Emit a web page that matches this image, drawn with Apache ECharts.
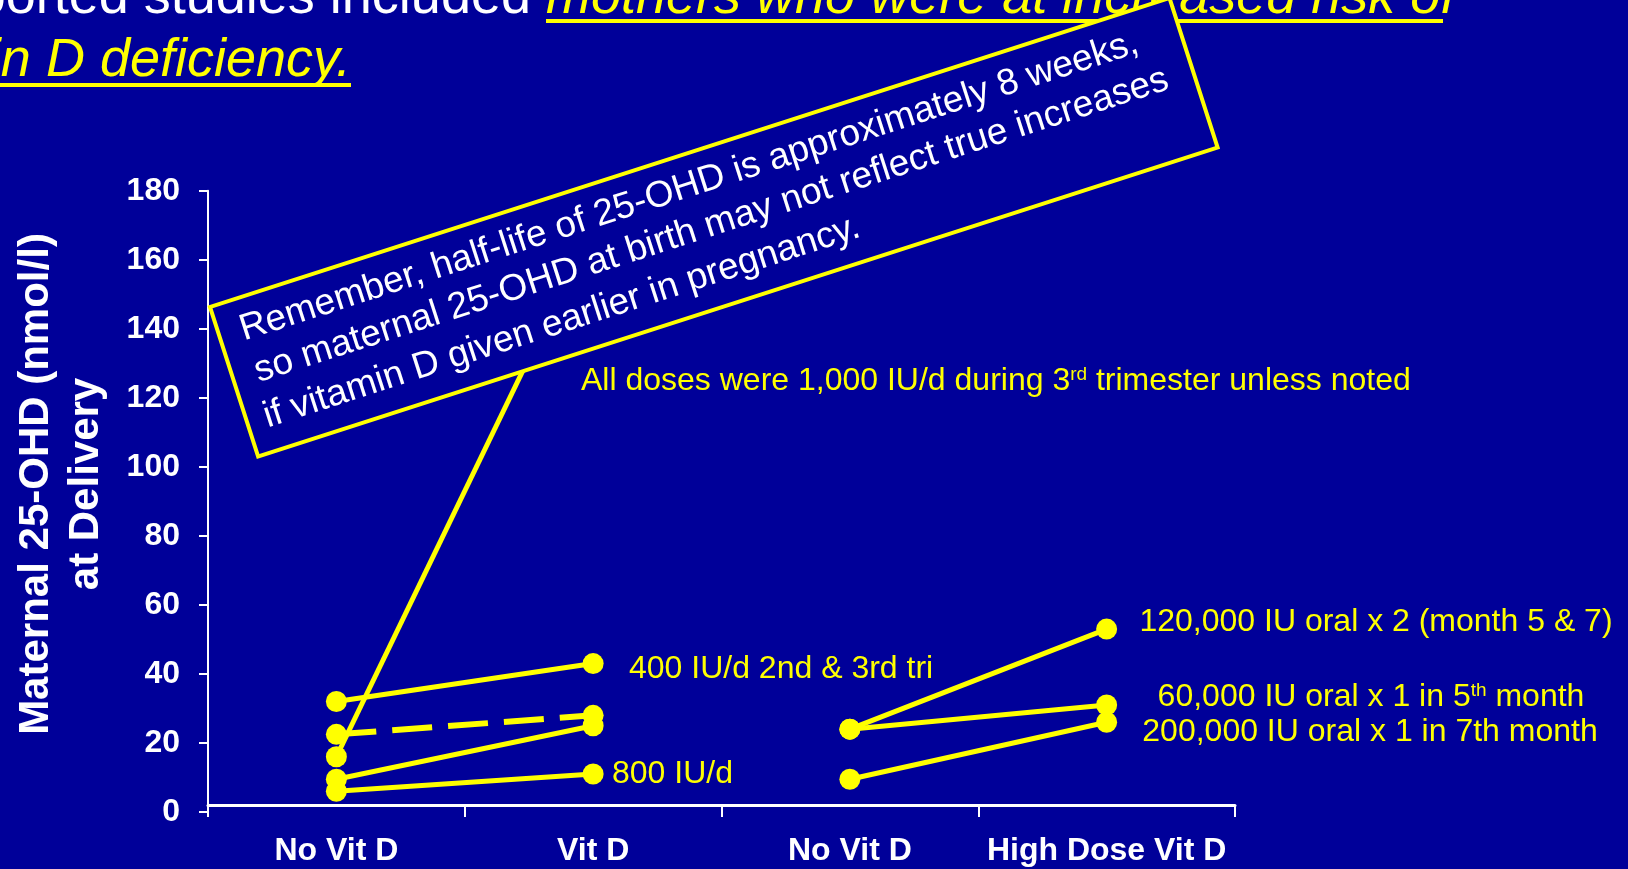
<!DOCTYPE html>
<html>
<head>
<meta charset="utf-8">
<script src="https://cdn.jsdelivr.net/npm/echarts@6/dist/echarts.min.js"></script>
<style>
html,body{margin:0;padding:0;background:#000099;}
#chart{width:1628px;height:869px;}
</style>
</head>
<body>
<div id="chart"></div>
<script>
// ---- data ----
const categories = ['No Vit D', 'Vit D', 'No Vit D', 'High Dose Vit D'];
const yTickMin = 0, yTickMax = 180, yTickStep = 20;
// left comparison (No Vit D -> Vit D)
const dose400_2nd3rd = [32, 43];
const doseDashed = [22.5, 28];
const doseSteep = [16, 170];
const doseMid = [9.5, 25];
const dose800 = [6, 11];
// right comparison (No Vit D -> High Dose Vit D)
const dose120k = [24, 53];
const dose60k = [24, 31];
const dose200k = [9.5, 26];

const YEL = '#FFFF00';
const FF = "'Liberation Sans', Arial, Helvetica, sans-serif";

function leftPair(p) { return [p[0], p[1], null, null]; }
function rightPair(p) { return [null, null, p[0], p[1]]; }
function mk(data, dashed) {
  return {
    type: 'line', data: data, symbol: 'circle', symbolSize: 21,
    itemStyle: { color: YEL }, showSymbol: true,
    lineStyle: { color: YEL, width: dashed ? 6 : 5, type: dashed ? [40, 16] : 'solid' },
    connectNulls: false, silent: true, z: 2
  };
}

const chart = echarts.init(document.getElementById('chart'), null, { renderer: 'canvas' });

function txt(x, y, text, size, opts) {
  opts = opts || {};
  return {
    type: 'text', x: x, y: y - 0.3465 * size, z: opts.z || 5, rotation: opts.rotation || 0,
    style: {
      text: text, fill: opts.fill || YEL,
      font: (opts.style || 'normal') + ' ' + (opts.weight || 'normal') + ' ' + size + 'px ' + FF,
      align: opts.align || 'left', verticalAlign: 'middle', rich: opts.rich
    }
  };
}
const supRich = {
  a: { fontSize: 32, fontFamily: FF, fill: YEL, color: YEL },
  s: { fontSize: 19, fontFamily: FF, fill: YEL, color: YEL, verticalAlign: 'top' }
};

const boxRot = 17.85 * Math.PI / 180;

const option = {
  backgroundColor: '#000099',
  animation: false,
  grid: { left: 208, right: 393, top: 190.7, bottom: 57, containLabel: false },
  xAxis: {
    type: 'category', data: categories, boundaryGap: true, offset: -7,
    axisLine: { lineStyle: { color: '#ffffff', width: 3 } },
    axisTick: { show: true, length: 12, lineStyle: { color: '#ffffff', width: 2 } },
    axisLabel: { color: '#ffffff', fontSize: 32, fontWeight: 'bold', fontFamily: FF, margin: 30, interval: 0 },
    splitLine: { show: false }
  },
  yAxis: {
    type: 'value', min: yTickMin, max: yTickMax, interval: yTickStep,
    axisLine: { show: true, lineStyle: { color: '#ffffff', width: 2 } },
    axisTick: { show: true, length: 9, lineStyle: { color: '#ffffff', width: 2 } },
    axisLabel: { color: '#ffffff', fontSize: 32, fontWeight: 'bold', fontFamily: FF, margin: 28 },
    splitLine: { show: false }
  },
  series: [
    mk(leftPair(dose400_2nd3rd)),
    mk(leftPair(doseDashed), true),
    mk(leftPair(doseSteep)),
    mk(leftPair(doseMid)),
    mk(leftPair(dose800)),
    mk(rightPair(dose120k)),
    mk(rightPair(dose60k)),
    mk(rightPair(dose200k))
  ],
  graphic: [
    // y-axis small extension below 0
    { type: 'line', z: 5, shape: { x1: 208, y1: 811, x2: 208, y2: 817 }, style: { stroke: '#ffffff', lineWidth: 2 } },
    // title fragments
    txt(531, 17, 'Supported studies included', 54, { fill: '#ffffff', align: 'right', z: 1 }),
    txt(546, 17, 'mothers who were at increased risk of', 54, { style: 'italic', z: 1 }),
    { type: 'rect', z: 1, shape: { x: 546, y: 19, width: 897, height: 4 }, style: { fill: YEL } },
    txt(351, 80, 'Vitamin D deficiency.', 54, { style: 'italic', align: 'right', z: 1 }),
    { type: 'rect', z: 1, shape: { x: 0, y: 83, width: 351, height: 4 }, style: { fill: YEL } },
    // y axis title
    {
      type: 'text', x: 61, y: 484, rotation: Math.PI / 2, z: 5,
      style: {
        text: 'Maternal 25-OHD (nmol/l)\nat Delivery', fill: '#ffffff',
        font: 'normal bold 42px ' + FF, align: 'center', verticalAlign: 'middle', lineHeight: 50
      }
    },
    // annotations
    txt(581, 392, '{a|All doses were 1,000 IU/d during 3}{s|rd}{a| trimester unless noted}', 32, { rich: supRich }),
    txt(629, 680, '400 IU/d 2nd & 3rd tri', 32),
    txt(612, 785, '800 IU/d', 32),
    txt(1376, 633, '120,000 IU oral x 2 (month 5 & 7)', 32, { align: 'center' }),
    txt(1371, 708, '{a|60,000 IU oral x 1 in 5}{s|th}{a| month}', 32, { align: 'center', rich: supRich }),
    txt(1370, 743, '200,000 IU oral x 1 in 7th month', 32, { align: 'center' }),
    // rotated note box
    {
      type: 'group', x: 210, y: 307, rotation: boxRot, z: 20,
      children: [
        { type: 'rect', z: 20, shape: { x: 0, y: 0, width: 1008, height: 157 },
          style: { fill: '#000099', stroke: YEL, lineWidth: 4 } },
        { type: 'text', z: 21, x: 22, y: 45 - 12.8,
          style: { text: 'Remember, half-life of 25-OHD is approximately 8 weeks,', fill: '#ffffff', font: 'normal normal 37px ' + FF, verticalAlign: 'middle' } },
        { type: 'text', z: 21, x: 23, y: 89 - 12.8,
          style: { text: 'so maternal 25-OHD at birth may not reflect true increases', fill: '#ffffff', font: 'normal normal 37px ' + FF, verticalAlign: 'middle' } },
        { type: 'text', z: 21, x: 18, y: 135 - 12.8,
          style: { text: 'if vitamin D given earlier in pregnancy.', fill: '#ffffff', font: 'normal normal 37px ' + FF, verticalAlign: 'middle' } }
      ]
    }
  ]
};
chart.setOption(option);
</script>
</body>
</html>
